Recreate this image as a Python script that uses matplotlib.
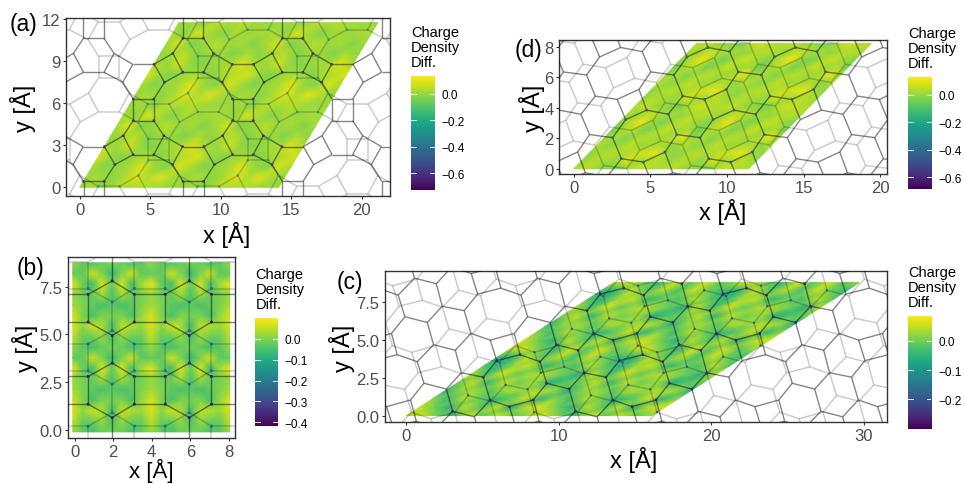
import numpy as np
import matplotlib
matplotlib.use('Agg')
import matplotlib.pyplot as plt
from matplotlib.collections import LineCollection

plt.rcParams['font.family'] = ['Liberation Sans', 'DejaVu Sans']

W, H = 964, 485

# panel (a): atoms of one cell and bonds (i, j, shift in a1, shift in a2)
a_x = [3.79, 5.25, 5.25, 3.79, 5.96, 7.29, 6.58, 5.25, 3.08, 1.75, 2.49, 3.79]
a_y = [4.75, 4.75, 6.29, 6.29, 3.68, 2.90, 1.62, 2.33, 3.68, 2.90, 1.62, 2.33]
a_bonds = [(0, 1, 0, 0), (1, 2, 0, 0), (2, 3, 0, 0), (3, 0, 0, 0),
           (4, 5, 0, 0), (5, 6, 0, 0), (6, 7, 0, 0), (7, 4, 0, 0),
           (8, 9, 0, 0), (9, 10, 0, 0), (10, 11, 0, 0), (11, 8, 0, 0),
           (11, 7, 0, 0), (0, 8, 0, 0), (1, 4, 0, 0),
           (5, 9, 1, 0), (6, 3, 1, -1), (10, 2, 0, -1)]
a_cell1 = (7.05, 0.0)
a_cell2 = (3.52, 5.87)
a_shift = (4.59, 3.04)
a_field = [[.00, .01, -.02, .04, .02, .04, .01, .00],
           [.00, .02, -.02, .02, .09, .03, .09, .02],
           [.02, -.03, .00, .02, .09, .00, -.03, .08],
           [.08, .00, -.03, .01, .02, -.03, .02, .04],
           [.02, .00, .07, -.01, -.03, .01, .02, .09],
           [-.02, .02, .04, -.03, .01, .00, -.03, .02],
           [.02, .08, -.04, .00, .04, .00, .02, -.03],
           [.02, -.02, .08, .02, -.03, .02, .00, .02]]

# panel (d)
d_x = [3.10, 4.53, 5.95, 6.72, 6.16, 4.75, 3.38, 2.53]
d_y = [0.66, 0.44, 1.10, 2.24, 3.57, 3.84, 3.22, 2.04]
d_bonds = [(0, 1, 0, 0), (1, 2, 0, 0), (2, 3, 0, 0), (3, 4, 0, 0),
           (4, 5, 0, 0), (5, 6, 0, 0), (6, 7, 0, 0), (7, 0, 0, 0),
           (3, 7, 1, 0), (4, 0, 0, 1), (5, 2, -1, 1), (6, 1, -1, 1)]
d_cell1 = (5.70, 0.0)
d_cell2 = (4.00, 4.10)
d_shift = (0.92, -2.02)
d_field = [[.03, .05, .00, -.01, -.05, .03, .07, .03],
           [.00, .03, .02, -.01, .08, .01, .02, .04],
           [-.02, .02, .04, .02, .05, .07, .10, .01],
           [.04, -.01, .00, .05, .00, .02, .03, -.02],
           [.00, .02, -.03, .02, .04, .00, .02, .10],
           [-.06, .02, .04, -.04, .00, .06, .00, .03],
           [-.02, .04, .11, .00, -.04, .02, .06, .00],
           [.02, .00, .05, .02, .02, -.01, .02, .04]]

# panel (b)
b_x = [1.95, 0.70, 3.10, 0.70, 3.10, 1.95]
b_y = [0.65, 1.35, 1.35, 2.80, 2.80, 3.50]
b_bonds = [(0, 1, 0, 0), (0, 2, 0, 0), (1, 3, 0, 0), (2, 4, 0, 0),
           (3, 5, 0, 0), (4, 5, 0, 0), (2, 1, 1, 0), (4, 3, 1, 0), (5, 0, 0, 1)]
b_cell1 = (4.0, 0.0)
b_cell2 = (0.0, 4.3)
bl_x = [1.95, 0.70, 3.10, 0.70, 3.10, 1.95]
bl_y = [0.90, 0.20, 0.20, 3.10, 3.10, 2.40]
bl_bonds = [(0, 1, 0, 0), (0, 2, 0, 0), (0, 5, 0, 0), (5, 3, 0, 0), (5, 4, 0, 0),
            (3, 1, 0, 1), (4, 2, 0, 1), (2, 1, 1, 0), (4, 3, 1, 0)]
b_field = [[.02, -.03, -.05, -.02, -.01, -.02, -.05, -.03],
           [.05, -.02, -.02, .02, -.05, .02, -.02, -.02],
           [.07, .01, .06, .04, -.06, .05, .04, .02],
           [.07, .00, -.05, .00, -.01, .00, -.05, .02],
           [.03, .00, -.03, -.05, -.03, -.05, -.03, .00],
           [.02, -.01, -.02, .03, -.05, .03, -.02, -.01],
           [.08, -.02, -.06, .07, -.02, .07, -.06, .03],
           [-.02, -.03, .06, .00, -.07, .00, .06, -.03]]

# panel (c)
c_x = [5.48, 6.75, 8.32, 9.20, 8.76, 7.45, 5.92, 5.04, 3.03, 2.62, 3.60, 4.46]
c_y = [1.03, 0.59, 1.03, 2.13, 3.55, 4.01, 3.62, 2.53, 0.29, 1.75, 2.82, -0.08]
c_bonds = [(0, 1, 0, 0), (1, 2, 0, 0), (2, 3, 0, 0), (3, 4, 0, 0),
           (4, 5, 0, 0), (5, 6, 0, 0), (6, 7, 0, 0), (7, 0, 0, 0),
           (6, 1, -1, 1), (5, 2, -1, 1), (8, 9, 0, 0), (9, 10, 0, 0),
           (10, 7, 0, 0), (8, 11, 0, 0), (11, 0, 0, 0), (4, 8, 0, 1),
           (3, 9, 1, 0), (10, 11, -1, 1)]
c_cell1 = (8.05, 0.0)
c_cell2 = (6.80, 4.38)
c_shift = (2.90, -0.80)
c_field = [[.03, .06, .00, -.05, .06, -.02, .06, -.02],
           [.06, .00, -.06, .05, -.02, .05, -.06, .05],
           [.02, -.04, .04, .00, -.05, -.02, .05, -.05],
           [-.06, .02, .03, -.02, .04, .02, .04, .03],
           [.00, .05, -.05, .05, .00, .03, -.06, -.02],
           [.05, -.04, .06, -.01, .04, .03, .00, -.06],
           [-.02, -.05, .03, .05, -.05, .00, -.03, .05],
           [-.05, -.05, .05, -.02, .04, -.03, .05, .00]]

PX = {'a': (65.7, 390.0, 19.3, 197.3), 'd': (559.3, 887.3, 40.7, 175.0),
      'b': (67.7, 235.0, 257.7, 439.0), 'c': (384.6, 886.8, 272.3, 423.3)}


def px_axes(fig, l, r, t, b):
    return fig.add_axes([l / W, 1 - b / H, (r - l) / W, (b - t) / H])


def bond_lines(xs, ys, bonds, cell1, cell2, shift=(0, 0), reach=8):
    segs = []
    for n in range(-reach, reach + 1):
        for m in range(-reach, reach + 1):
            ox = n * cell1[0] + m * cell2[0] + shift[0]
            oy = n * cell1[1] + m * cell2[1] + shift[1]
            for i, j, du, dv in bonds:
                segs.append([(xs[i] + ox, ys[i] + oy),
                             (xs[j] + ox + du * cell1[0] + dv * cell2[0],
                              ys[j] + oy + du * cell1[1] + dv * cell2[1])])
    return segs


def atoms_inside(xs, ys, cell1, cell2, origin, nu, shift=(0, 0), reach=8):
    mat = np.array([[cell1[0], cell2[0]], [cell1[1], cell2[1]]])
    px, py = [], []
    for n in range(-reach, reach + 1):
        for m in range(-reach, reach + 1):
            for x, y in zip(xs, ys):
                p = np.array([x + n * cell1[0] + m * cell2[0] + shift[0],
                              y + n * cell1[1] + m * cell2[1] + shift[1]])
                f = np.linalg.solve(mat, p - np.array(origin))
                if 0 <= f[0] <= nu and 0 <= f[1] <= nu:
                    px.append(p[0])
                    py.append(p[1])
    return px, py


def field(ax, table, cell1, cell2, vmin, vmax, origin=(0, 0)):
    table = np.array(table)
    nv, nu = table.shape
    u = np.arange(2 * nu + 1) / nu
    v = np.arange(2 * nv + 1) / nv
    U, V = np.meshgrid(u, v)
    X = origin[0] + U * cell1[0] + V * cell2[0]
    Y = origin[1] + U * cell1[1] + V * cell2[1]
    Z = table[np.arange(2 * nv + 1) % nv][:, np.arange(2 * nu + 1) % nu]
    ax.pcolormesh(X, Y, Z, shading='gouraud', cmap='viridis', vmin=vmin, vmax=vmax, zorder=1)


def colourbar(fig, l, r, t, b, vmin, vmax, ticks, size=8.5):
    cax = px_axes(fig, l, r, t, b)
    grad = np.linspace(vmax, vmin, 256).reshape(-1, 1)
    cax.imshow(grad, aspect='auto', cmap='viridis', vmin=vmin, vmax=vmax,
               extent=[0, 1, vmin, vmax])
    cax.set_xticks([])
    cax.yaxis.tick_right()
    cax.set_yticks(ticks)
    cax.set_yticklabels(['%.1f' % t_ if t_ == 0 else '\u2212%.1f' % abs(t_) for t_ in ticks],
                        fontsize=size, color='black')
    cax.tick_params(axis='y', length=0, pad=5)
    for s in cax.spines.values():
        s.set_visible(False)
    for t_ in ticks:
        cax.plot([0, 0.2], [t_, t_], color='white', lw=0.7, alpha=0.9)
        cax.plot([0.8, 1], [t_, t_], color='white', lw=0.7, alpha=0.9)
    cax.set_xlim(0, 1)
    cax.set_ylim(vmin, vmax)
    fig.text(l / W, 1 - (t - 7) / H, 'Charge\nDensity\nDiff.', fontsize=10.5, va='bottom', ha='left',
             linespacing=1.1)


def panel(fig, key, xlim, ylim, xticks, yticks, yfmt):
    ax = px_axes(fig, *PX[key])
    ax.set_xlim(*xlim)
    ax.set_ylim(*ylim)
    ax.set_xticks(xticks)
    ax.set_yticks(yticks)
    ax.set_yticklabels([yfmt % y for y in yticks])
    ax.tick_params(labelsize=12, labelcolor='#4d4d4d', color='#333333', length=2.5, width=0.8, pad=1.5)
    for s in ax.spines.values():
        s.set_color('#333333')
        s.set_linewidth(1.0)
    return ax


def layers(ax, dark, light):
    ax.add_collection(LineCollection(light, colors='black', alpha=0.2, linewidths=1.1, zorder=2))
    ax.add_collection(LineCollection(dark, colors='black', alpha=0.48, linewidths=1.0, zorder=3))


def dots(ax, pts, value, vmin, vmax, size):
    ax.scatter(pts[0], pts[1], c=[value] * len(pts[0]), cmap='viridis', vmin=vmin, vmax=vmax,
               s=size, linewidths=0, zorder=4)


def label(fig, x, y, s, size=17, rot=0, ha='center'):
    fig.text(x / W, 1 - y / H, s, fontsize=size, rotation=rot, ha=ha, va='center')


fig = plt.figure(figsize=(W / 100, H / 100), dpi=100)

# (a)
ax = panel(fig, 'a', (-1.0, 22.0), (-0.64, 12.05), [0, 5, 10, 15, 20], [0, 3, 6, 9, 12], '%d')
field(ax, a_field, a_cell1, a_cell2, -0.723, 0.131)
layers(ax, bond_lines(a_x, a_y, a_bonds, a_cell1, a_cell2),
       bond_lines(a_x, a_y, a_bonds, a_cell1, a_cell2, a_shift))
dots(ax, atoms_inside(a_x, a_y, a_cell1, a_cell2, (0, 0), 2, a_shift), -0.25, -0.723, 0.131, 3)
dots(ax, atoms_inside(a_x, a_y, a_cell1, a_cell2, (0, 0), 2), -0.6, -0.723, 0.131, 4)
colourbar(fig, 411, 435, 77.3, 190.7, -0.723, 0.131, [0, -0.2, -0.4, -0.6])
label(fig, 227, 235, 'x [Å]')
label(fig, 23, 108, 'y [Å]', rot=90)
label(fig, 10, 25, '(a)', 16.5, ha='left')

# (d)
ax = panel(fig, 'd', (-0.95, 20.45), (-0.34, 8.45), [0, 5, 10, 15, 20], [0, 2, 4, 6, 8], '%d')
field(ax, d_field, d_cell1, d_cell2, -0.685, 0.126)
layers(ax, bond_lines(d_x, d_y, d_bonds, d_cell1, d_cell2),
       bond_lines(d_x, d_y, d_bonds, d_cell1, d_cell2, d_shift))
dots(ax, atoms_inside(d_x, d_y, d_cell1, d_cell2, (0, 0), 2), -0.45, -0.685, 0.126, 4)
colourbar(fig, 908, 932, 78.3, 190, -0.685, 0.126, [0, -0.2, -0.4, -0.6])
label(fig, 722.7, 211.7, 'x [Å]')
label(fig, 531.7, 108, 'y [Å]', rot=90)
label(fig, 515, 50, '(d)', 16.5, ha='left')

# (b)
ax = panel(fig, 'b', (-0.36, 8.32), (-0.42, 9.07), [0, 2, 4, 6, 8], [0, 2.5, 5, 7.5], '%.1f')
field(ax, b_field, (4.075, 0), (0, 4.425), -0.416, 0.099, origin=(-0.1, -0.1))
layers(ax, bond_lines(b_x, b_y, b_bonds, b_cell1, b_cell2),
       bond_lines(bl_x, bl_y, bl_bonds, b_cell1, b_cell2))
dots(ax, atoms_inside(bl_x, bl_y, b_cell1, b_cell2, (-0.1, -0.1), 2.05), -0.25, -0.416, 0.099, 5)
dots(ax, atoms_inside(b_x, b_y, b_cell1, b_cell2, (-0.1, -0.1), 2.05), -0.38, -0.416, 0.099, 5)
colourbar(fig, 255.3, 277.7, 319, 426.7, -0.416, 0.099, [0, -0.1, -0.2, -0.3, -0.4])
label(fig, 151, 471, 'x [Å]', 16)
label(fig, 25, 348, 'y [Å]', rot=90)
label(fig, 17, 268, '(b)', 16.5, ha='left')

# (c)
ax = panel(fig, 'c', (-1.43, 31.5), (-0.44, 9.5), [0, 10, 20, 30], [0, 2.5, 5, 7.5], '%.1f')
field(ax, c_field, c_cell1, c_cell2, -0.303, 0.085)
layers(ax, bond_lines(c_x, c_y, c_bonds, c_cell1, c_cell2),
       bond_lines(c_x, c_y, c_bonds, c_cell1, c_cell2, c_shift))
dots(ax, atoms_inside(c_x, c_y, c_cell1, c_cell2, (0, 0), 2, c_shift), -0.2, -0.303, 0.085, 3)
dots(ax, atoms_inside(c_x, c_y, c_cell1, c_cell2, (0, 0), 2), -0.27, -0.303, 0.085, 4)
colourbar(fig, 908, 931.3, 317.3, 430, -0.303, 0.085, [0, -0.1, -0.2])
label(fig, 634, 460, 'x [Å]')
label(fig, 342, 348, 'y [Å]', rot=90)
label(fig, 337, 282, '(c)', 16.5, ha='left')

fig.savefig('out.png', dpi=100)
